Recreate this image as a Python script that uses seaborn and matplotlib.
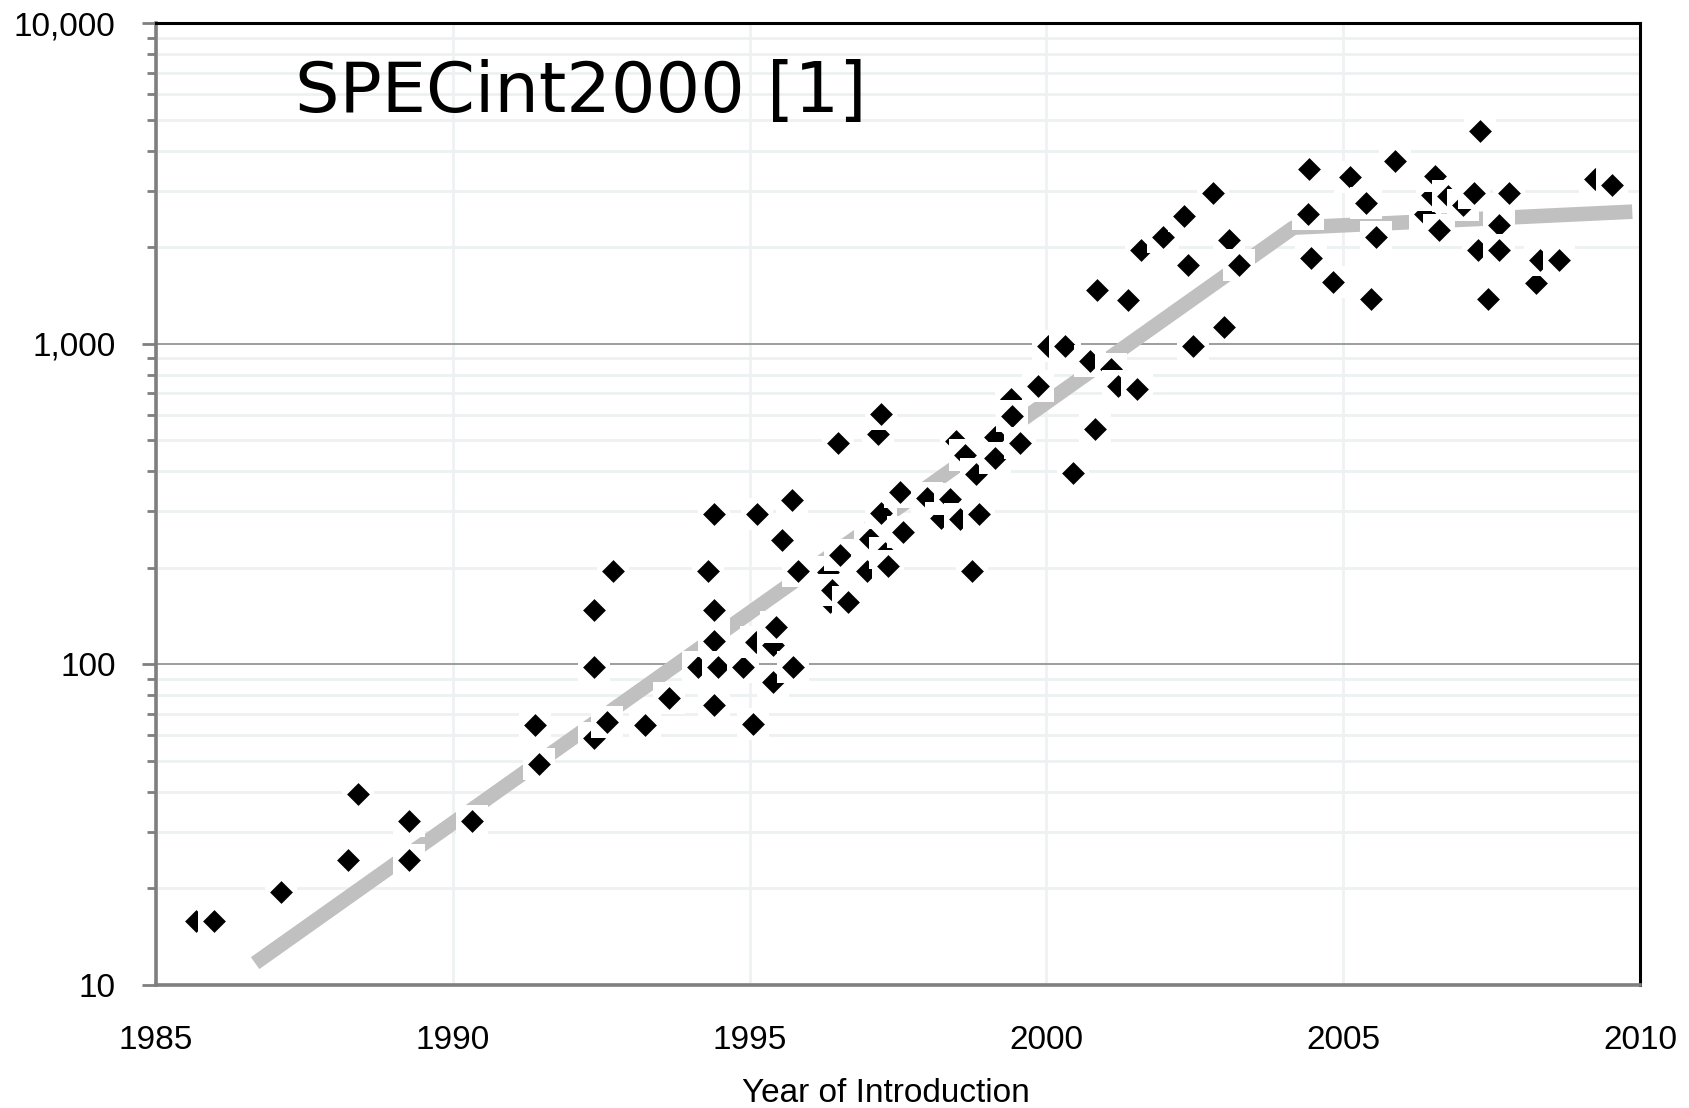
import matplotlib
matplotlib.use("Agg")
import matplotlib.pyplot as plt
from matplotlib import font_manager
from matplotlib.ticker import FuncFormatter, NullFormatter, LogLocator
import seaborn as sns
import numpy as np

# --- data ---
years = [1985.67, 1985.98, 1987.11, 1988.24, 1988.40, 1989.26, 1989.26, 1990.32,
         1991.39, 1991.45, 1992.38, 1992.38, 1992.38, 1992.59, 1992.70, 1993.24,
         1993.64, 1994.13, 1994.30, 1994.40, 1994.40, 1994.40, 1994.40, 1994.47,
         1994.89, 1995.06, 1995.11, 1995.12, 1995.39, 1995.39, 1995.45, 1995.55,
         1995.72, 1995.73, 1995.82, 1996.32, 1996.35, 1996.38, 1996.49, 1996.52,
         1996.66, 1996.97, 1997.02, 1997.17, 1997.22, 1997.22, 1997.28, 1997.33,
         1997.54, 1997.58, 1997.99, 1998.23, 1998.37, 1998.48, 1998.54, 1998.63,
         1998.74, 1998.82, 1998.86, 1999.13, 1999.13, 1999.41, 1999.42, 1999.56,
         1999.86, 2000.03, 2000.32, 2000.45, 2000.73, 2000.82, 2000.85, 2001.09,
         2001.20, 2001.38, 2001.53, 2001.60, 2001.97, 2002.31, 2002.38, 2002.47,
         2002.81, 2003.00, 2003.07, 2003.24, 2004.40, 2004.43, 2004.46, 2004.83,
         2005.12, 2005.39, 2005.46, 2005.56, 2005.88, 2006.38, 2006.50, 2006.55,
         2006.62, 2006.76, 2007.01, 2007.21, 2007.27, 2007.30, 2007.44, 2007.63,
         2007.63, 2007.80, 2008.24, 2008.31, 2008.63, 2009.24, 2009.53]
specint = [15.8, 15.8, 19.5, 24.5, 39.3, 32.4, 24.5, 32.4,
           64.9, 49, 148, 98, 58.9, 66, 196, 64.9,
           78.7, 98, 196, 294, 148, 118, 74.5, 98,
           98, 65.3, 117, 294, 115, 88, 131, 245,
           326, 98, 196, 194, 156, 170, 489, 219,
           156, 196, 246, 521, 603, 296, 223, 203,
           344, 259, 329, 287, 327, 498, 284, 449,
           196, 392, 294, 510, 441, 670, 595, 490,
           737, 985, 985, 394, 880, 541, 1468, 832,
           738, 1373, 720, 1965, 2150, 2495, 1765, 985,
           2950, 1130, 2110, 1765, 2540, 3510, 1850, 1560,
           3310, 2750, 1380, 2150, 3720, 2540, 2900, 3330,
           2265, 2880, 2710, 2950, 1960, 4620, 1375, 2350,
           1963, 2950, 1550, 1830, 1830, 3260, 3120]

trend_years = [1986.67, 2004.16, 2009.87]
trend_vals = [11.7, 2300, 2580]

x_ticks = [1985, 1990, 1995, 2000, 2005, 2010]
y_ticks = [10, 100, 1000, 10000]
title_text = "SPECint2000 [1]"
x_title = "Year of Introduction"

sns.set_style("white")
names = {f.name for f in font_manager.fontManager.ttflist}
if "Liberation Sans Narrow" in names:
    tick_font, tick_size = "Liberation Sans Narrow", 28
else:
    tick_font, tick_size = "Liberation Sans", 24
plt.rcParams["font.family"] = [tick_font, "DejaVu Sans"]

fig = plt.figure(figsize=(16.89, 11.08), dpi=100)
ax = fig.add_axes([156 / 1689, 1 - 985 / 1108, (1640 - 156) / 1689, (985 - 23) / 1108])

# trend line
sns.lineplot(x=trend_years, y=trend_vals, ax=ax, color="#c0c0c0", linewidth=10.5,
             solid_capstyle="butt", zorder=2, sort=True, estimator=None)

# each point: white box first, then the black diamond (later boxes cover earlier diamonds)
order = np.argsort(years, kind="stable")
for k, i in enumerate(order):
    ax.scatter([years[i]], [specint[i]], marker="s", s=530, color="white",
               linewidths=0, zorder=3 + 2 * k)
    ax.scatter([years[i]], [specint[i]], marker="D", s=135, color="black",
               linewidths=0, zorder=4 + 2 * k)

ax.set_yscale("log")
ax.set_ylim(10, 10000)
ax.set_xlim(1985, 2010)
ax.set_xticks(x_ticks)
ax.set_yticks(y_ticks)
ax.yaxis.set_minor_locator(LogLocator(base=10, subs=np.arange(2, 10)))
ax.yaxis.set_minor_formatter(NullFormatter())
ax.yaxis.set_major_formatter(FuncFormatter(lambda v, p: f"{int(round(v)):,}"))

# grid
ax.set_axisbelow(True)
ax.grid(axis="y", which="minor", color="#eef1f1", linewidth=2.0)
ax.grid(axis="y", which="major", color="#8c8c8c", linewidth=1.2)
ax.grid(axis="x", which="major", color="#eff2f2", linewidth=2.0)

for side in ["left", "bottom"]:
    ax.spines[side].set_color("#7f7f7f")
    ax.spines[side].set_linewidth(2.6)
for side in ["top", "right"]:
    ax.spines[side].set_color("black")
    ax.spines[side].set_linewidth(2.2)

ax.tick_params(axis="x", which="both", length=0, pad=29, labelsize=tick_size,
               labelcolor="black")
ax.tick_params(axis="y", which="major", length=10, width=2, color="#7f7f7f",
               pad=19, labelsize=tick_size, labelcolor="black", left=True)
ax.tick_params(axis="y", which="minor", length=6.5, width=2, color="#7f7f7f", left=True)

ax.set_xlabel(x_title, fontsize=tick_size, color="black")
ax.xaxis.set_label_coords(0.4916, -0.0964)
ax.set_ylabel("")

ax.text(0.0936, 0.908, title_text, transform=ax.transAxes, fontsize=50.5,
        family="DejaVu Sans", va="baseline", ha="left", color="black", zorder=500)

fig.savefig("out.png", dpi=100)
